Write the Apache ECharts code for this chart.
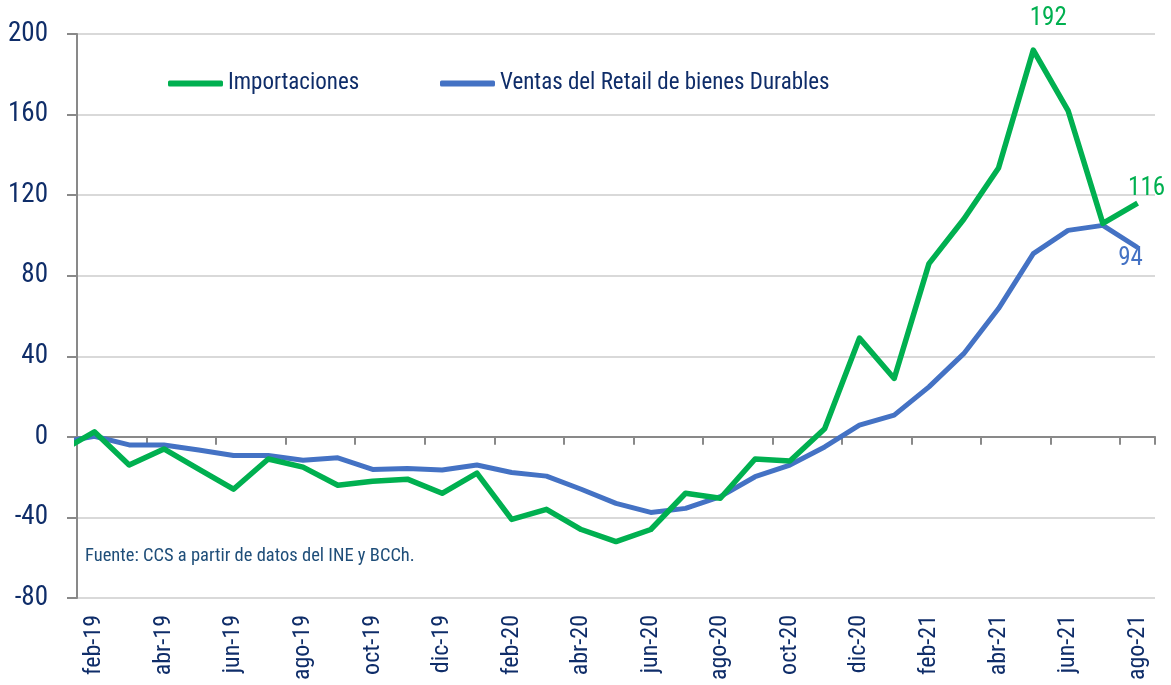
<!DOCTYPE html>
<html>
<head>
<meta charset="utf-8">
<script src="https://cdn.jsdelivr.net/npm/echarts@6/dist/echarts.min.js"></script>
<style>
html,body{margin:0;padding:0;background:#fff;}
#chart{width:1171px;height:685px;}
</style>
</head>
<body>
<div id="chart"></div>
<script>
// Axis categories (feb-19 .. ago-21)
const months = ['feb-19','mar-19','abr-19','may-19','jun-19','jul-19','ago-19','sep-19','oct-19','nov-19','dic-19',
  'ene-20','feb-20','mar-20','abr-20','may-20','jun-20','jul-20','ago-20','sep-20','oct-20','nov-20','dic-20',
  'ene-21','feb-21','mar-21','abr-21','may-21','jun-21','jul-21','ago-21'];
// Series values; first entry is ene-19, which lies just left of the plot and is clipped
const importaciones = [-7.5, 2.5,-14,-6,-16,-26,-11,-15,-24,-22,-21,-28,
  -18,-41,-36,-46,-52,-46,-28,-30.5,-11,-12,4,49,
  29,86,108,133.5,192,162,106,116];
const ventasRetail = [-2.9, 0.3,-4,-4,-6.5,-9.3,-9.3,-11.6,-10.4,-16.2,-15.7,-16.5,
  -14,-17.7,-19.5,-26,-33,-37.5,-35.5,-29.7,-19.8,-14,-5,5.8,
  10.8,24.8,41.3,63.7,91,102.5,105,94];
const yTicks = {min: -80, max: 200, interval: 40};
const seriesNames = ['Importaciones', 'Ventas del Retail de bienes Durables'];
const fuente = 'Fuente: CCS a partir de datos del INE y BCCh.';

const FONT = '"Roboto Condensed", "DejaVu Sans Condensed", sans-serif';
const NAVY = '#0F2D69';
const GREEN = '#00B050';
const BLUE = '#4472C4';

function toPoints(arr, labelIdx, labelCfg) {
  return arr.map((v, k) => {
    const item = {value: [k - 1, v]};
    if (labelIdx.includes(k)) item.label = Object.assign({show: true}, labelCfg[labelIdx.indexOf(k)]);
    return item;
  });
}
const impMax = importaciones.indexOf(Math.max(...importaciones));
const last = importaciones.length - 1;

const chart = echarts.init(document.getElementById('chart'));
chart.setOption({
  animation: false,
  backgroundColor: '#fff',
  textStyle: {fontFamily: FONT},
  title: {
    text: fuente, left: 80, top: 542,
    textStyle: {fontFamily: FONT, fontSize: 18.5, fontWeight: 'normal', color: '#1F4E79'}
  },
  legend: [
    {data: [seriesNames[0]], left: 163, top: 67, itemWidth: 55, itemHeight: 6, itemGap: 6, icon: 'roundRect',
     textStyle: {fontFamily: FONT, fontSize: 23, color: NAVY}},
    {data: [seriesNames[1]], left: 435, top: 67, itemWidth: 55, itemHeight: 6, icon: 'roundRect',
     textStyle: {fontFamily: FONT, fontSize: 23, color: NAVY}}
  ],
  grid: {left: 77, right: 16, top: 34, bottom: 87, containLabel: false},
  xAxis: [
    { // labels at bottom
      type: 'category', data: months, boundaryGap: true, position: 'bottom',
      axisLine: {show: false, onZero: false}, axisTick: {show: false},
      axisLabel: {interval: 1, rotate: 90, margin: 17, fontFamily: FONT, fontSize: 24, color: NAVY},
      splitLine: {show: false}
    },
    { // axis line + ticks on zero
      type: 'category', data: months, boundaryGap: true, position: 'bottom',
      axisLine: {show: true, onZero: true, lineStyle: {color: '#898989', width: 2}},
      axisTick: {show: true, interval: 1, length: 8, lineStyle: {color: '#898989', width: 2}},
      axisLabel: {show: false, interval: 1}, splitLine: {show: false}
    },
    { // hidden value axis used to place points
      type: 'value', min: -0.5, max: months.length - 0.5, show: false
    }
  ],
  yAxis: {
    type: 'value', min: yTicks.min, max: yTicks.max, interval: yTicks.interval,
    axisLine: {show: true, onZero: false, lineStyle: {color: '#898989', width: 2}},
    axisTick: {show: true, length: 10, lineStyle: {color: '#898989', width: 2}},
    axisLabel: {margin: 29, fontFamily: FONT, fontSize: 27, color: NAVY},
    splitLine: {show: true, lineStyle: {color: '#D9D9D9', width: 2}}
  },
  series: [
    {
      name: seriesNames[0], type: 'line', xAxisIndex: 2, yAxisIndex: 0,
      showSymbol: true, symbol: 'circle', symbolSize: 0, clip: true, z: 3,
      lineStyle: {color: GREEN, width: 5.5, join: 'round'}, itemStyle: {color: GREEN},
      label: {show: false, fontFamily: FONT, fontSize: 25, color: GREEN, formatter: p => Math.round(p.value[1])},
      data: toPoints(importaciones, [impMax, last], [
        {position: 'top', distance: 5, offset: [15, -14]},
        {position: 'top', distance: 5, offset: [9, 3]}
      ])
    },
    {
      name: seriesNames[1], type: 'line', xAxisIndex: 2, yAxisIndex: 0,
      showSymbol: true, symbol: 'circle', symbolSize: 0, clip: true, z: 2,
      lineStyle: {color: BLUE, width: 5, join: 'round'}, itemStyle: {color: BLUE},
      label: {show: false, fontFamily: FONT, fontSize: 25, color: BLUE, formatter: p => Math.round(p.value[1])},
      data: toPoints(ventasRetail, [last], [
        {position: 'bottom', distance: 5, offset: [-7, -6]}
      ])
    }
  ]
});
</script>
</body>
</html>
